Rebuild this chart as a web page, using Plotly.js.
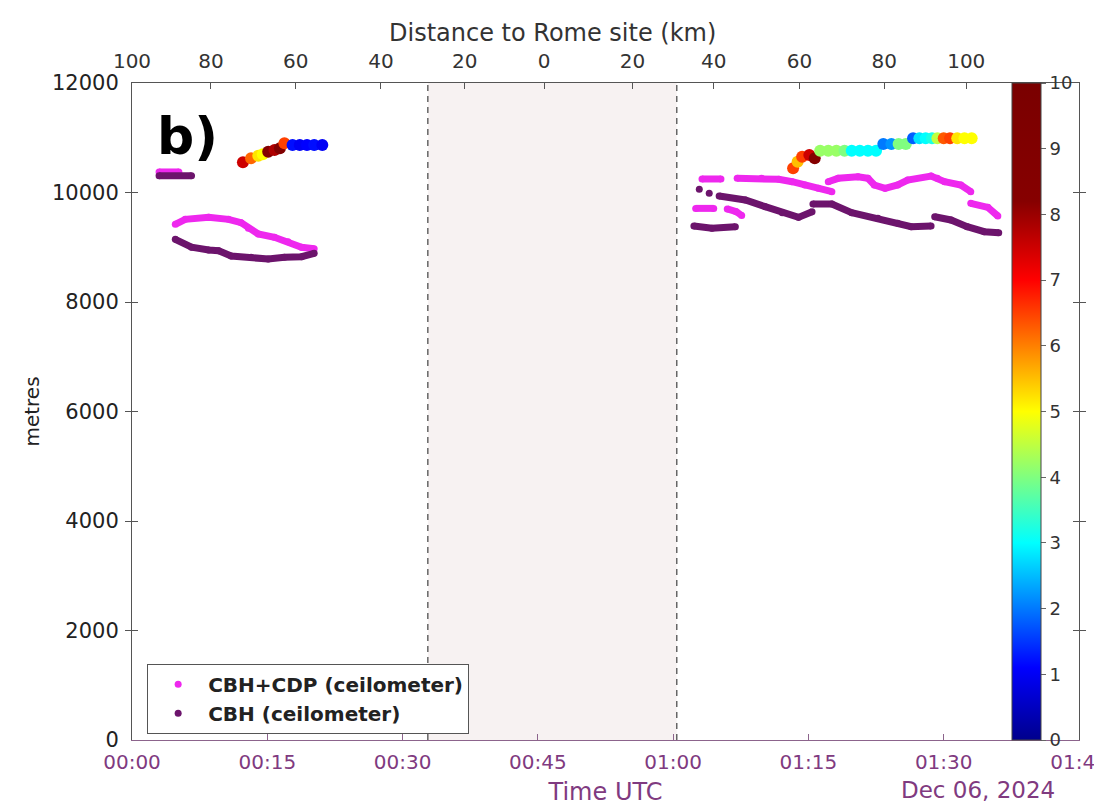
<!DOCTYPE html>
<html>
<head>
<meta charset="utf-8">
<script src="https://cdn.plot.ly/plotly-3.0.1.min.js"></script>
<style>
html,body{margin:0;padding:0;background:#fff;}
#chart{width:1094px;height:809px;}
</style>
</head>
<body>
<div id="chart"></div>
<script>
// ---- Data (time in minutes after 00:00 UTC, Dec 06 2024; heights in metres) ----
// CBH+CDP (ceilometer)
const cbhCdpMinutes = [3.0, 5.2, null,
  4.8, 5.9, 8.5, 10.7, 12.1, 12.9, 14.0, 15.8, 17.3, 18.8, 20.2, null,
  63.2, 65.3, null,
  67.1, 69.8, 71.7, 73.2, 74.6, 76.1, 77.6, null,
  77.2, 78.3, 80.5, 81.6, 82.3, 83.5, 84.9, 86.0, 88.6, 89.3, 90.1, 91.9, 93.0, null,
  93.0, 94.9, 96.0, null,
  62.5, 64.5, null,
  66.0, 67.0, 67.6];
const cbhCdpMetres = [10375, 10375, null,
  9419, 9510, 9547, 9510, 9449, 9346, 9242, 9182, 9101, 9000, 8974, null,
  10247, 10247, null,
  10259, 10259, 10240, 10197, 10137, 10076, 10015, null,
  10197, 10259, 10289, 10259, 10137, 10076, 10137, 10228, 10301, 10259, 10197, 10137, 10015, null,
  9802, 9729, 9571, null,
  9710, 9710, null,
  9700, 9650, 9580];

// CBH (ceilometer)
const cbhMinutes = [3.0, 6.6, null,
  4.8, 6.6, 8.5, 9.6, 11.0, 13.2, 15.1, 16.9, 18.8, 20.2, null,
  62.9, null, 64.0, null,
  65.1, 68.0, 70.2, 72.1, 73.9, 75.4, null,
  75.5, 77.6, 79.8, 82.7, 84.9, 86.4, 88.6, null,
  89.0, 90.8, 92.6, 94.5, 96.1, null,
  62.3, 64.3, 66.9];
const cbhMetres = [10306, 10306, null,
  9145, 9000, 8950, 8937, 8840, 8816, 8785, 8816, 8827, 8889, null,
  10058, null, 9985, null,
  9936, 9863, 9741, 9632, 9546, 9650, null,
  9790, 9790, 9632, 9528, 9437, 9376, 9388, null,
  9558, 9498, 9376, 9284, 9266, null,
  9388, 9346, 9376];

// Coloured points (colour value 0-10)
const colMinutesLeft = [12.3, 13.2, 14.0, 14.5, 15.1, 15.8, 16.4, 16.9, 17.8, 18.6, 19.4, 20.2, 21.1];
const colMetresLeft  = [10551, 10624, 10672, 10698, 10745, 10776, 10807, 10898, 10868, 10868, 10868, 10868, 10868];
const colValueLeft   = [7.5, 6.2, 5.2, 5.0, 8.5, 7.8, 9.0, 6.5, 1.2, 1.0, 1.1, 1.2, 1.0];

const colMinutesRight = [73.3, 73.8, 74.3, 75.1, 75.7, 76.3, 77.2, 78.1, 79.0, 79.8, 80.7, 81.6, 82.5,
  83.3, 84.2, 85.0, 85.8, 86.6, 87.3, 88.0, 88.7, 89.3, 90.0, 90.7, 91.5, 92.3, 93.1];
const colMetresRight  = [10442, 10563, 10654, 10685, 10624, 10763, 10763, 10763, 10763, 10763, 10763, 10763, 10763,
  10886, 10886, 10886, 10886, 10990, 10990, 10990, 10990, 10990, 10990, 10990, 10990, 10990, 10990];
const colValueRight   = [6.5, 5.5, 6.5, 7.5, 8.5, 4.2, 4.2, 4.2, 4.0, 3.0, 3.0, 3.0, 3.0,
  2.0, 2.2, 4.0, 4.0, 1.8, 2.8, 3.0, 3.2, 4.5, 6.3, 6.5, 5.2, 5.0, 5.0];

// Gap (shaded) period
const gapStartMinutes = 32.8;
const gapEndMinutes = 60.4;

// Tick labels
const timeTickMinutes = [0, 15, 30, 45, 60, 75, 90, 105];
const timeTickLabels = ['00:00', '00:15', '00:30', '00:45', '01:00', '01:15', '01:30', '01:45'];
const distTickMinutes = [0, 8.75, 18.15, 27.6, 36.9, 45.7, 55.5, 64.5, 74.0, 83.4, 92.5];
const distTickLabels = ['100', '80', '60', '40', '20', '0', '20', '40', '60', '80', '100'];
const heightTicks = [0, 2000, 4000, 6000, 8000, 10000, 12000];
const heightTickLabels = ['0', '2000', '4000', '6000', '8000', '10000', '12000'];
const colorTicks = [0, 1, 2, 3, 4, 5, 6, 7, 8, 9, 10];

// ---- Styling ----
const FONT = 'DejaVu Sans, Arial, sans-serif';
const PURPLE_TXT = 'rgb(128,58,128)';
const MAGENTA = 'rgb(238,40,238)';
const DARKPURPLE = 'rgb(108,20,108)';
const jet = [[0, '#00008c'], [0.11, '#0000ff'], [0.3, '#00ffff'], [0.5, '#ffff00'],
             [0.7, '#ff0000'], [0.82, '#860000'], [1, '#7a0000']];

const colMinutes = colMinutesLeft.concat([null], colMinutesRight);
const colMetres = colMetresLeft.concat([null], colMetresRight);
const colValue = colValueLeft.concat([null], colValueRight);

const traces = [
  {x: cbhCdpMinutes, y: cbhCdpMetres, type: 'scatter', mode: 'lines+markers',
   line: {color: MAGENTA, width: 7}, marker: {color: MAGENTA, size: 7},
   showlegend: false, hoverinfo: 'x+y'},
  {x: cbhMinutes, y: cbhMetres, type: 'scatter', mode: 'lines+markers',
   line: {color: DARKPURPLE, width: 7}, marker: {color: DARKPURPLE, size: 7},
   showlegend: false, hoverinfo: 'x+y'},
  {x: colMinutes, y: colMetres, type: 'scatter', mode: 'markers',
   marker: {size: 12, color: colValue, colorscale: jet, cmin: 0, cmax: 10, showscale: true,
     colorbar: {x: 0.929, xanchor: 'left', xref: 'paper', y: 0.5, yanchor: 'middle',
       len: 1, lenmode: 'fraction', thickness: 29, xpad: 0, ypad: 0,
       outlinecolor: '#444', outlinewidth: 1,
       tickvals: colorTicks, ticks: 'outside', ticklen: 5, tickcolor: '#666',
       tickfont: {family: FONT, size: 18, color: '#333'}}},
   showlegend: false},
  {x: [null], y: [null], type: 'scatter', mode: 'markers', name: 'CBH+CDP (ceilometer)',
   marker: {color: MAGENTA, size: 7}},
  {x: [null], y: [null], type: 'scatter', mode: 'markers', name: 'CBH (ceilometer)',
   marker: {color: DARKPURPLE, size: 7}},
  // invisible trace to carry the top axis
  {x: [0, 105], y: [null, null], xaxis: 'x2', type: 'scatter', mode: 'markers',
   showlegend: false, hoverinfo: 'skip'}
];

const layout = {
  width: 1094, height: 809,
  margin: {l: 132, r: 15, t: 83, b: 69},
  paper_bgcolor: '#ffffff', plot_bgcolor: '#ffffff',
  font: {family: FONT, color: '#333'},
  xaxis: {range: [0, 105], tickvals: timeTickMinutes, ticktext: timeTickLabels,
    showline: true, linecolor: 'rgb(140,100,140)', linewidth: 1, mirror: false,
    ticks: 'inside', ticklen: 6, tickcolor: 'rgb(140,100,140)',
    showgrid: false, zeroline: false, ticklabelstandoff: 4, ticklabeloverflow: 'allow',
    tickfont: {family: FONT, size: 20, color: PURPLE_TXT},
    title: {text: 'Time UTC', font: {family: FONT, size: 24, color: PURPLE_TXT}, standoff: 10}},
  xaxis2: {range: [0, 105], overlaying: 'x', side: 'top', anchor: 'y',
    tickvals: distTickMinutes, ticktext: distTickLabels,
    showline: true, linecolor: '#555', linewidth: 1,
    ticks: 'inside', ticklen: 6, tickcolor: '#555',
    showgrid: false, zeroline: false, ticklabelstandoff: 6,
    tickfont: {family: FONT, size: 20, color: '#333'}},
  yaxis: {range: [0, 12000], tickvals: heightTicks, ticktext: heightTickLabels,
    showline: true, linecolor: '#555', linewidth: 1, mirror: 'allticks',
    ticks: 'inside', ticklen: 6, tickcolor: '#555',
    showgrid: false, zeroline: false, ticklabelstandoff: 8,
    tickfont: {family: FONT, size: 21, color: '#222'},
    title: {text: 'metres', font: {family: FONT, size: 20, color: '#222'}, standoff: 6}},
  legend: {x: 0.016, y: 0.116, xanchor: 'left', yanchor: 'top',
    bgcolor: '#ffffff', bordercolor: '#555', borderwidth: 1,
    font: {family: 'DejaVu Sans, Arial, sans-serif', size: 20, color: '#222', weight: 'bold'},
    itemwidth: 50, tracegroupgap: 0},
  shapes: [
    {type: 'rect', xref: 'x', yref: 'paper', x0: gapStartMinutes, x1: gapEndMinutes, y0: 0, y1: 1,
     fillcolor: 'rgb(247,242,242)', line: {width: 0}, layer: 'below'},
    {type: 'line', xref: 'x', yref: 'paper', x0: gapStartMinutes, x1: gapStartMinutes, y0: 0, y1: 1,
     line: {color: '#666', width: 1.5, dash: '6px,5px'}},
    {type: 'line', xref: 'x', yref: 'paper', x0: gapEndMinutes, x1: gapEndMinutes, y0: 0, y1: 1,
     line: {color: '#666', width: 1.5, dash: '6px,5px'}}
  ],
  annotations: [
    {text: 'Distance to Rome site (km)', xref: 'paper', yref: 'paper', x: 0.444, y: 1, yshift: 50,
     xanchor: 'center', yanchor: 'middle', showarrow: false,
     font: {family: FONT, size: 24, color: '#333'}},
    {text: '<b>b)</b>', xref: 'paper', yref: 'paper', x: 0.024, y: 0.92, xanchor: 'left', yanchor: 'middle',
     showarrow: false, font: {family: 'DejaVu Sans, Arial, sans-serif', size: 52, color: '#000'}},
    {text: 'Dec 06, 2024', xref: 'paper', yref: 'paper', x: 0.893, y: -0.076, xanchor: 'center', yanchor: 'middle',
     showarrow: false, font: {family: FONT, size: 23, color: PURPLE_TXT}}
  ]
};

Plotly.newPlot('chart', traces, layout, {displayModeBar: false, responsive: false});
</script>
</body>
</html>
